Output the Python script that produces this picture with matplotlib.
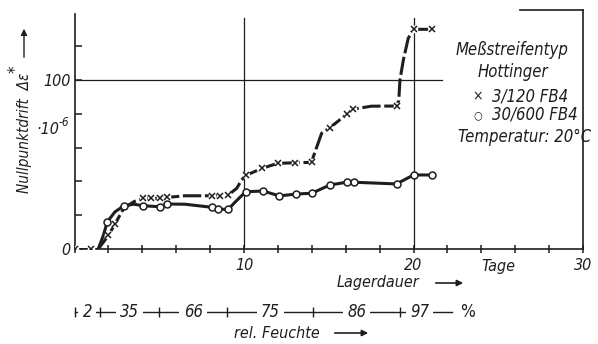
import matplotlib
matplotlib.use("Agg")
import matplotlib.pyplot as plt
from matplotlib.font_manager import fontManager

# ---------------- data ----------------
# measured points, series "3/120 FB4" (crosses)
cross_days = [0.0, 1.0, 2.0, 2.4, 4.05, 4.5, 5.05, 5.45, 8.1, 8.6, 9.05,
              10.1, 11.05, 12.0, 13.0, 14.0, 15.07, 16.06, 16.45, 19.0, 20.0, 21.07]
cross_vals = [0, 0, 8, 15, 30, 30, 30, 30.5, 31.5, 31.5, 31.8,
              43.5, 47.7, 50.7, 51, 51.3, 71.8, 79.7, 82.7, 84.6, 130, 130]
# drawn curve through the crosses
cross_curve_days = [1.4, 2.0, 2.4, 2.9, 3.5, 4.05, 4.5, 5.05, 5.45, 6.5, 8.1, 8.6, 9.05,
                    9.57, 9.86, 10.1, 11.05, 12.0, 13.0, 14.0, 14.09, 14.58, 15.07,
                    16.06, 16.45, 17.5, 19.0, 19.13, 19.2, 19.4, 19.69, 20.0, 21.07]
cross_curve_vals = [0, 8, 15, 24, 28, 30, 30, 30, 30.5, 31.5, 31.5, 31.5, 31.8,
                    35.9, 40.8, 43.5, 47.7, 50.7, 51, 51.3, 54.6, 68.5, 71.8,
                    79.7, 82.7, 84.5, 84.6, 87.8, 100, 111.8, 124.7, 130, 130]

# measured points, series "30/600 FB4" (circles)
circ_days = [1.94, 2.92, 4.06, 5.04, 5.43, 8.09, 8.48, 9.07, 10.1, 11.14, 12.08,
             13.05, 14.0, 15.07, 16.06, 16.49, 19.0, 20.0, 21.07]
circ_vals = [16.2, 25.6, 25.6, 25.0, 26.6, 24.7, 23.5, 23.5, 33.9, 34.3, 31.4,
             32.5, 33.0, 37.9, 39.5, 39.5, 38.5, 43.8, 43.8]
circ_curve_days = [1.4, 1.7, 1.94, 2.39, 2.92, 3.5, 4.06, 5.04, 5.43, 6.5, 8.09, 8.48,
                   9.07, 9.5, 10.1, 11.14, 12.08, 13.05, 14.0, 15.07, 16.06, 16.49,
                   19.0, 20.0, 21.07]
circ_curve_vals = [0, 8, 16.2, 22, 25.6, 26.5, 25.6, 25.0, 26.6, 26.5, 24.7, 23.5,
                   23.5, 28, 33.9, 34.3, 31.4, 32.5, 33.0, 37.9, 39.5, 39.5,
                   38.5, 43.8, 43.8]
start_days = [0.0, 1.4]
start_vals = [0, 0]

# relative humidity row
hum_bounds = [0.0, 1.5, 5.0, 9.0, 14.1, 19.2, 21.5]
hum_labels = ["2", "35", "66", "75", "86", "97"]

y_ticks = [0, 20, 40, 60, 80, 100, 120]
x_ticks = list(range(0, 31, 2))
x_labels = {10: "10", 20: "20", 25: "Tage", 30: "30"}

# ---------------- style ----------------
cands = [f for f in fontManager.ttflist
         if ("condensed" in f.fname.lower() or "narrow" in f.fname.lower())
         and f.style in ("italic", "oblique") and "bold" not in f.fname.lower()]
cands.sort(key=lambda f: (0 if "DejaVu" in f.name else 1 if "Liberation" in f.name else 2))
if cands:
    plt.rcParams["font.family"] = [cands[0].name, "DejaVu Sans"]
    plt.rcParams["font.stretch"] = cands[0].stretch
    FS = 1.0
else:
    plt.rcParams["font.family"] = ["DejaVu Sans"]
    FS = 0.88
plt.rcParams["font.style"] = "italic"
INK = "#1e1e1e"

W, H = 598, 344
fig = plt.figure(figsize=(W / 100, H / 100), dpi=100)
fig.patch.set_facecolor("white")

X0, X30, Y0, YTOP = 74.5, 583.0, 249.0, 10.0
PX_PER_UNIT = 1.69
ymax = (Y0 - YTOP) / PX_PER_UNIT
ax = fig.add_axes([X0 / W, (H - Y0) / H, (X30 - X0) / W, (Y0 - YTOP) / H])
ax.set_xlim(0, 30)
ax.set_ylim(0, ymax)
ax.set_facecolor("none")

for s in ax.spines.values():
    s.set_color(INK)
    s.set_linewidth(1.2)
ax.spines["left"].set_bounds(0, (Y0 - 14) / PX_PER_UNIT)
ax.spines["top"].set_bounds(26.3, 30)

ax.set_yticks(y_ticks)
ax.set_yticklabels(["0" if v == 0 else ("100" if v == 100 else "") for v in y_ticks],
                   fontsize=11.5 * FS)
ax.tick_params(axis="y", direction="in", length=5, width=1.1, color=INK, labelcolor=INK, pad=3)
ax.set_xticks(x_ticks)
ax.set_xticklabels([])
ax.tick_params(axis="x", direction="inout", length=6, width=1.1, color=INK)

def ay(px):
    return (Y0 - px) / (Y0 - YTOP)

xt = ax.get_xaxis_transform()
for d, lab in x_labels.items():
    ax.text(d, ay(266), lab, transform=xt, ha="center", va="center", fontsize=11.5 * FS, color=INK)

# reference lines
ax.plot([10, 10], [0, (Y0 - 18) / PX_PER_UNIT], color=INK, lw=0.9)
ax.plot([20, 20], [0, (Y0 - 18) / PX_PER_UNIT], color=INK, lw=0.9)
ax.plot([0, 21.7], [100, 100], color=INK, lw=0.9)

# curves
ax.plot(start_days, start_vals, color=INK, lw=2.0, solid_capstyle="butt", zorder=3)
ax.plot(circ_curve_days, circ_curve_vals, color=INK, lw=2.2, zorder=3)
ax.plot(cross_curve_days, cross_curve_vals, color=INK, lw=2.2, ls=(0, (6, 1.2)), zorder=3)
ax.plot(cross_days, cross_vals, ls="none", marker="o", ms=5.5, mfc="white", mec="none", zorder=4)
ax.plot(cross_days, cross_vals, ls="none", marker="x", ms=5, mew=1.1, color=INK, zorder=5)
ax.plot(circ_days, circ_vals, ls="none", marker="o", ms=5, mfc="white", mec=INK, mew=1.1, zorder=5)

def ft(x, y, s, **kw):
    kw.setdefault("color", INK)
    return fig.text(x / W, 1 - y / H, s, **kw)

# y-axis label
ft(25, 133, "Nullpunktdrift  Δε", rotation=90, ha="center", va="center", fontsize=11 * FS)
ft(16, 69, "*", rotation=90, ha="center", va="center", fontsize=12 * FS)
ax.annotate("", xy=(24 / W, 1 - 26 / H), xytext=(24 / W, 1 - 60 / H), xycoords="figure fraction",
            arrowprops=dict(arrowstyle="-|>", color=INK, lw=1.0, mutation_scale=9))
ft(59, 130, "·10", ha="right", va="center", fontsize=11.5 * FS)
ft(59, 123, "-6", ha="left", va="center", fontsize=8.5 * FS)

# x-axis label
ft(378, 283, "Lagerdauer", ha="center", va="center", fontsize=11.5 * FS)
ax.annotate("", xy=(466 / W, 1 - 283 / H), xytext=(433 / W, 1 - 283 / H), xycoords="figure fraction",
            arrowprops=dict(arrowstyle="-|>", color=INK, lw=1.2, mutation_scale=9))

# legend text block
ft(512, 50, "Meßstreifentyp", ha="center", va="center", fontsize=12 * FS)
ft(513, 72, "Hottinger", ha="center", va="center", fontsize=12 * FS)
ft(478, 96, "×", ha="center", va="center", fontsize=10, family="DejaVu Sans", style="normal")
ft(492, 96, "3/120 FB4", ha="left", va="center", fontsize=12 * FS)
ft(478, 115, "○", ha="center", va="center", fontsize=8, family="DejaVu Sans", style="normal")
ft(492, 115, "30/600 FB4", ha="left", va="center", fontsize=12 * FS)
ft(525, 137, "Temperatur: 20°C", ha="center", va="center", fontsize=12 * FS)

# humidity row
hx = fig.add_axes([X0 / W, 1 - 312 / H, (X30 - X0) / W, 0.001])
hx.set_xlim(0, 30)
hx.set_ylim(-1, 1)
hx.axis("off")
hx.plot([hum_bounds[0], 22.3], [0, 0], color=INK, lw=1.0, clip_on=False)
hx.plot(hum_bounds[:-1], [0] * (len(hum_bounds) - 1), ls="none", marker="|", ms=7, mew=1.0,
        color=INK, clip_on=False)
for i, lab in enumerate(hum_labels):
    mid = 0.5 * (hum_bounds[i] + hum_bounds[i + 1])
    hx.text(mid, 0, lab, ha="center", va="center", fontsize=12 * FS, color=INK, zorder=5,
            bbox=dict(boxstyle="square,pad=0.25", fc="white", ec="none"))
hx.text(23.2, 0, "%", ha="center", va="center", fontsize=12.5 * FS, color=INK, style="normal",
        zorder=5, bbox=dict(boxstyle="square,pad=0.1", fc="white", ec="none"))

ft(277, 333, "rel. Feuchte", ha="center", va="center", fontsize=11.5 * FS)
ax.annotate("", xy=(371 / W, 1 - 333 / H), xytext=(332 / W, 1 - 333 / H), xycoords="figure fraction",
            arrowprops=dict(arrowstyle="-|>", color=INK, lw=1.2, mutation_scale=9))

fig.savefig("out.png", dpi=100, facecolor="white")
